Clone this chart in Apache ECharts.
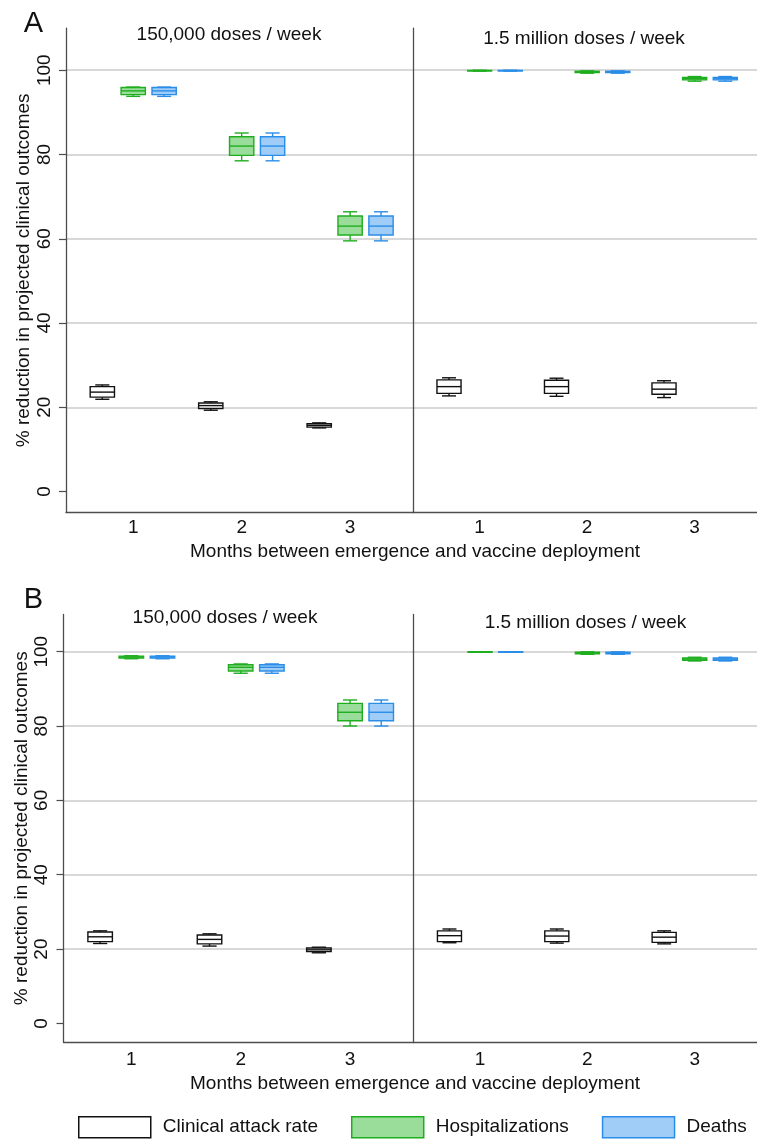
<!DOCTYPE html>
<html>
<head>
<meta charset="utf-8">
<script src="https://cdn.jsdelivr.net/npm/echarts@6/dist/echarts.min.js"></script>
<style>
html,body{margin:0;padding:0;background:#fff;}
#chart{width:757px;height:1140px;}
</style>
</head>
<body>
<div id="chart"></div>
<script>
// ---------------- DATA ----------------
const months = [1, 2, 3];
const seriesNames = ['Clinical attack rate', 'Hospitalizations', 'Deaths'];
const panelLetters = ['A', 'B'];
const doseTitles = ['150,000 doses / week', '1.5 million doses / week'];
const yTickValues = [0, 20, 40, 60, 80, 100];
const xTitle = 'Months between emergence and vaccine deployment';
const yTitle = '% reduction in projected clinical outcomes';

// each row: [min, q1, median, q3, max] for months 1,2,3
// Panel A – 150,000 doses / week
const aLowClinical = [[21.9, 22.4, 23.6, 24.9, 25.3], [19.3, 19.7, 20.4, 21.0, 21.3], [15.1, 15.3, 15.7, 16.1, 16.3]];
const aLowHosp     = [[93.8, 94.2, 95.1, 95.9, 96.0], [78.5, 79.8, 82.0, 84.2, 85.1], [59.5, 60.9, 63.0, 65.4, 66.4]];
const aLowDeaths   = [[93.8, 94.2, 95.1, 95.9, 96.0], [78.5, 79.8, 82.0, 84.2, 85.1], [59.5, 60.9, 63.0, 65.4, 66.4]];
// Panel A – 1.5 million doses / week
const aHighClinical = [[22.7, 23.3, 24.9, 26.5, 27.0], [22.6, 23.3, 24.9, 26.4, 26.9], [22.3, 23.1, 24.3, 25.8, 26.3]];
const aHighHosp     = [[99.8, 99.85, 99.9, 99.95, 100], [99.3, 99.45, 99.6, 99.75, 99.85], [97.4, 97.7, 98.0, 98.3, 98.5]];
const aHighDeaths   = [[99.8, 99.85, 99.9, 99.95, 100], [99.3, 99.45, 99.6, 99.75, 99.85], [97.4, 97.7, 98.0, 98.3, 98.5]];
// Panel B – 150,000 doses / week
const bLowClinical = [[21.5, 22.0, 23.3, 24.6, 24.9], [20.8, 21.4, 22.6, 23.8, 24.1], [19.0, 19.3, 19.8, 20.3, 20.5]];
const bLowHosp     = [[98.1, 98.3, 98.6, 98.8, 98.9], [94.2, 94.8, 95.8, 96.5, 96.7], [80.0, 81.4, 83.7, 86.1, 87.0]];
const bLowDeaths   = [[98.1, 98.3, 98.6, 98.8, 98.9], [94.2, 94.8, 95.8, 96.5, 96.7], [80.0, 81.4, 83.7, 86.1, 87.0]];
// Panel B – 1.5 million doses / week
const bHighClinical = [[21.7, 22.0, 23.6, 24.9, 25.4], [21.6, 22.0, 23.5, 24.9, 25.4], [21.4, 21.8, 23.2, 24.5, 24.9]];
const bHighHosp     = [[99.85, 99.9, 99.95, 99.98, 100], [99.3, 99.45, 99.65, 99.85, 99.95], [97.5, 97.7, 98.0, 98.3, 98.5]];
const bHighDeaths   = [[99.85, 99.9, 99.95, 99.98, 100], [99.3, 99.45, 99.65, 99.85, 99.95], [97.5, 97.7, 98.0, 98.3, 98.5]];

// ---------------- STYLE / LAYOUT ----------------
const FONT = '"Liberation Sans", Arial, Helvetica, sans-serif';
const TXT = '#111';
const AXIS_C = '#4d4d4d';
const GRID_C = '#cbcbcb';
const colors = [
  {stroke: '#111111', fill: '#ffffff'},
  {stroke: '#1fae1f', fill: '#9adc9a'},
  {stroke: '#2a8de8', fill: '#9fcdf8'}
];
const offsets = [-0.285, 0, 0.285];
const BOX_W = 0.224;
const CAP_RATIO = 0.58;

const grids = [
  {left: 66,    top: 28.1,  width: 347, height: 484.5},
  {left: 413,   top: 28.1,  width: 347, height: 484.5},
  {left: 63.5,  top: 614.5, width: 350, height: 427.5},
  {left: 413.5, top: 614.5, width: 349, height: 427.5}
];
const gridData = [
  [aLowClinical, aLowHosp, aLowDeaths],
  [aHighClinical, aHighHosp, aHighDeaths],
  [bLowClinical, bLowHosp, bLowDeaths],
  [bHighClinical, bHighHosp, bHighDeaths]
];

function makeRender(styleIdx) {
  const c = colors[styleIdx];
  return function (params, api) {
    const x = api.value(0);
    const vMin = api.value(1), q1 = api.value(2), med = api.value(3), q3 = api.value(4), vMax = api.value(5);
    const pMin = api.coord([x, vMin]), pQ1 = api.coord([x, q1]), pMed = api.coord([x, med]);
    const pQ3 = api.coord([x, q3]), pMax = api.coord([x, vMax]);
    const w = api.size([BOX_W, 0])[0];
    const cx = pMed[0];
    const hw = w / 2, cw = w * CAP_RATIO / 2;
    const ls = {stroke: c.stroke, lineWidth: 1.4, fill: null};
    return {
      type: 'group',
      children: [
        {type: 'line', shape: {x1: cx, y1: pMax[1], x2: cx, y2: pQ3[1]}, style: ls},
        {type: 'line', shape: {x1: cx, y1: pQ1[1], x2: cx, y2: pMin[1]}, style: ls},
        {type: 'line', shape: {x1: cx - cw, y1: pMax[1], x2: cx + cw, y2: pMax[1]}, style: ls},
        {type: 'line', shape: {x1: cx - cw, y1: pMin[1], x2: cx + cw, y2: pMin[1]}, style: ls},
        {type: 'rect', shape: {x: cx - hw, y: pQ3[1], width: w, height: Math.max(pQ1[1] - pQ3[1], 0.5)},
          style: {fill: c.fill, stroke: c.stroke, lineWidth: 1.4}},
        {type: 'line', shape: {x1: cx - hw, y1: pMed[1], x2: cx + hw, y2: pMed[1]}, style: ls}
      ]
    };
  };
}

const xAxes = [], yAxes = [], series = [];
grids.forEach(function (g, gi) {
  const isLeft = gi % 2 === 0;
  const isA = gi < 2;
  xAxes.push({
    type: 'value', gridIndex: gi, min: 0.38, max: 3.58,
    axisLine: {show: true, onZero: false, lineStyle: {color: AXIS_C, width: 1.3}},
    axisTick: {show: false},
    splitLine: {show: false},
    axisLabel: {customValues: months, fontSize: 19, fontFamily: FONT, color: TXT, margin: isA ? 6 : 8}
  });
  yAxes.push({
    type: 'value', gridIndex: gi, min: -5, max: 110,
    axisLine: {show: true, onZero: false, lineStyle: {color: AXIS_C, width: 1.3}},
    axisTick: {show: isLeft, customValues: yTickValues, length: 7, lineStyle: {color: AXIS_C, width: 1.2}},
    axisLabel: {show: isLeft, customValues: yTickValues, rotate: 90, fontSize: 19, fontFamily: FONT, color: TXT, margin: 12},
    splitLine: {show: true, showMinLine: false, lineStyle: {color: GRID_C, width: 1.5}},
    name: isLeft ? yTitle : '',
    nameLocation: 'middle', nameRotate: 90, nameGap: isA ? 33 : 25,
    nameTextStyle: {fontSize: 19, fontFamily: FONT, color: TXT}
  });
  gridData[gi].forEach(function (arr, si) {
    series.push({
      type: 'custom', name: seriesNames[si], xAxisIndex: gi, yAxisIndex: gi,
      renderItem: makeRender(si),
      itemStyle: {color: colors[si].fill, borderColor: colors[si].stroke},
      encode: {x: 0, y: [1, 2, 3, 4, 5]},
      data: months.map(function (m, mi) { return [m + offsets[si]].concat(arr[mi]); }),
      silent: true
    });
  });
});

function txt(text, x, y, size) {
  return {type: 'text', x: x, y: y, silent: true,
    style: {text: text, font: size + 'px ' + FONT, fill: TXT,
      textAlign: 'center', textVerticalAlign: 'middle', align: 'center', verticalAlign: 'middle'}};
}

const graphics = [
  txt(panelLetters[0], 33.5, 24, 29),
  txt(panelLetters[1], 33.5, 600, 29),
  txt(doseTitles[0], 229, 35, 19),
  txt(doseTitles[1], 584, 39, 19),
  txt(doseTitles[0], 225, 617.5, 19),
  txt(doseTitles[1], 585.5, 622.5, 19),
  txt(xTitle, 415, 551.5, 19),
  txt(xTitle, 415, 1084, 19)
];

const chart = echarts.init(document.getElementById('chart'), null, {renderer: 'canvas'});
chart.setOption({
  animation: false,
  backgroundColor: '#ffffff',
  grid: grids.map(function (g) { return Object.assign({containLabel: false}, g); }),
  xAxis: xAxes,
  yAxis: yAxes,
  series: series,
  legend: {
    left: 78, top: 1116, itemWidth: 72, itemHeight: 21, itemGap: 33, padding: 0,
    selectedMode: false,
    textStyle: {fontSize: 19, fontFamily: FONT, color: TXT, padding: [0, 0, 0, 7]},
    data: seriesNames.map(function (n, i) {
      return {name: n, icon: 'rect', itemStyle: {color: colors[i].fill, borderColor: colors[i].stroke, borderWidth: 1.5}};
    })
  },
  graphic: graphics
});
</script>
</body>
</html>
